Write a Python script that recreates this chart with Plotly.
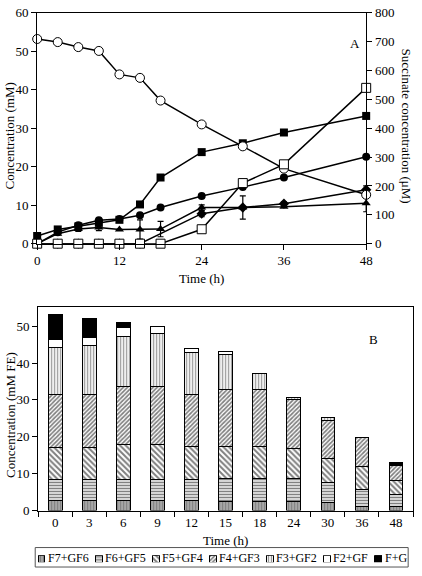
import plotly.graph_objects as go

W, H = 422, 576
FONT = "'Liberation Serif', 'Times New Roman', Times, serif"

# ---------------- Panel A data ----------------
time_h = [0, 3, 6, 9, 12, 15, 18, 24, 30, 36, 48]
open_circle = [53.2, 52.4, 51.1, 50.1, 44.0, 43.1, 37.2, 31.0, 25.3, 19.5, 12.7]
filled_square = [2.0, 3.7, 4.5, 5.4, 6.2, 10.2, 17.2, 23.8, 26.1, 28.9, 33.2]
filled_circle = [0.0, 3.0, 4.8, 6.1, 6.4, 7.4, 9.4, 12.4, 14.7, 17.2, 22.6]
filled_triangle = [0.0, 2.6, 3.8, 4.2, 3.7, 3.7, 3.8, 9.4, 9.4, 9.6, 10.5]
triangle_err = [0, 0, 0.6, 0.8, 0, 2.5, 2.0, 0.7, 0, 0, 2.2]
filled_diamond = [0.0, 0.0, 0.0, 0.0, 0.0, 0.0, None, 7.8, 9.4, 10.4, 14.0]
diamond_err = [0, 0, 0, 0, 0, 0, 0, 0.8, 3.0, 0.5, 1.0]
succinate_uM = [0, 0, 0, 0, 0, 0, 0, 50, 210, 275, 540]

# ---------------- Panel B data ----------------
time_cat = ["0", "3", "6", "9", "12", "15", "18", "24", "30", "36", "48"]
series_names = ["F7+GF6", "F6+GF5", "F5+GF4", "F4+GF3", "F3+GF2", "F2+GF", "F+G"]
F7_GF6 = [2.8, 2.7, 2.7, 2.7, 2.7, 2.5, 2.5, 2.5, 2.3, 1.1, 1.0]
F6_GF5 = [5.7, 5.8, 5.8, 5.8, 5.8, 6.3, 6.3, 6.3, 5.2, 4.5, 3.4]
F5_GF4 = [8.5, 8.5, 9.4, 9.4, 8.8, 8.5, 8.5, 8.0, 6.5, 6.4, 3.8]
F4_GF3 = [14.6, 14.6, 15.6, 15.6, 14.2, 15.4, 15.5, 13.2, 10.4, 7.7, 3.9]
F3_GF2 = [12.5, 13.2, 13.8, 14.5, 11.4, 9.7, 4.3, 0.7, 0.8, 0, 0]
F2_GF = [2.2, 2.2, 2.3, 1.8, 1.1, 0.7, 0, 0, 0, 0, 0]
F_G = [6.9, 5.1, 1.3, 0, 0, 0, 0, 0, 0, 0, 0.8]
series_values = [F7_GF6, F6_GF5, F5_GF4, F4_GF3, F3_GF2, F2_GF, F_G]

# pattern styles
styles = [
    dict(shape="|", size=3, solidity=0.8, fgcolor="black", bgcolor="white"),
    dict(shape="-", size=3, solidity=0.55, fgcolor="black", bgcolor="white"),
    dict(shape="\\", size=4, solidity=0.5, fgcolor="black", bgcolor="white"),
    dict(shape="/", size=3, solidity=0.55, fgcolor="black", bgcolor="white"),
    dict(shape="|", size=3, solidity=0.45, fgcolor="#333333", bgcolor="white"),
    dict(shape="", size=3, solidity=0.3, fgcolor="white", bgcolor="white"),
    dict(shape="", size=3, solidity=0.3, fgcolor="black", bgcolor="black"),
]


def px(x):
    return x / W


def py(y):
    return 1 - y / H


fig = go.Figure()

line = dict(color="black", width=1.5)


def ebar(arr):
    return dict(type="data", array=arr, visible=True, color="black", thickness=1.2, width=3)


fig.add_trace(go.Scatter(x=time_h, y=filled_square, mode="lines+markers", line=line,
                         marker=dict(symbol="square", size=8, color="black"),
                         xaxis="x", yaxis="y", cliponaxis=False))
fig.add_trace(go.Scatter(x=time_h, y=filled_circle, mode="lines+markers", line=line,
                         marker=dict(symbol="circle", size=8, color="black"),
                         xaxis="x", yaxis="y", cliponaxis=False))
fig.add_trace(go.Scatter(x=time_h, y=filled_triangle, mode="lines+markers", line=line,
                         marker=dict(symbol="triangle-up", size=8, color="black"),
                         error_y=ebar(triangle_err), xaxis="x", yaxis="y", cliponaxis=False))
fig.add_trace(go.Scatter(x=time_h, y=filled_diamond, mode="lines+markers", line=line,
                         connectgaps=True,
                         marker=dict(symbol="diamond", size=8, color="black"),
                         error_y=ebar(diamond_err), xaxis="x", yaxis="y", cliponaxis=False))
fig.add_trace(go.Scatter(x=time_h, y=open_circle, mode="lines+markers", line=line,
                         marker=dict(symbol="circle", size=9, color="white",
                                     line=dict(color="black", width=1)),
                         xaxis="x", yaxis="y", cliponaxis=False))
fig.add_trace(go.Scatter(x=time_h, y=succinate_uM, mode="lines+markers", line=line,
                         marker=dict(symbol="square", size=9, color="white",
                                     line=dict(color="black", width=1)),
                         xaxis="x", yaxis="y2", cliponaxis=False))

# Panel B stacked bars
for name, vals, st in zip(series_names, series_values, styles):
    fig.add_trace(go.Bar(
        x=time_cat, y=[v if v > 0 else None for v in vals], name=name,
        marker=dict(color=st["bgcolor"], line=dict(color="black", width=1),
                    pattern=dict(shape=st["shape"], size=st["size"], solidity=st["solidity"],
                                 fgcolor=st["fgcolor"], bgcolor=st["bgcolor"])),
        xaxis="x2", yaxis="y3", hoverinfo="skip"))

# Manual legend (swatches on an auxiliary axis + text annotations)
LEG_FS = 12
char_w = {"F": 0.556, "G": 0.722, "+": 0.564}


def text_w(s):
    return sum(char_w.get(c, 0.5) for c in s) * LEG_FS


box_l, box_r, box_t, box_b = 33, 415, 555, 575
sw, tgap, pad = 7, 2, 3
total = sum(sw + tgap + text_w(n) for n in series_names)
gap = (box_r - box_l - 2 * pad - total) / (len(series_names) - 1)
xcur = box_l + pad
annotations = []
for name, st in zip(series_names, styles):
    fig.add_trace(go.Bar(
        x=[xcur + sw / 2], y=[1], width=[sw],
        marker=dict(color=st["bgcolor"], line=dict(color="black", width=1),
                    pattern=dict(shape=st["shape"], size=st["size"], solidity=st["solidity"],
                                 fgcolor=st["fgcolor"], bgcolor=st["bgcolor"])),
        xaxis="x3", yaxis="y4", hoverinfo="skip", showlegend=False))
    annotations.append(dict(x=px(xcur + sw + tgap), y=py(566), xref="paper", yref="paper",
                            text=name, showarrow=False, xanchor="left", yanchor="middle",
                            xshift=-1, font=dict(family=FONT, size=LEG_FS, color="black")))
    xcur += sw + tgap + text_w(name) + gap

ax_common = dict(showline=True, linecolor="black", linewidth=1.3, ticks="outside",
                 ticklen=5, tickwidth=1.3, tickcolor="black", showgrid=False, zeroline=False,
                 ticklabeloverflow="allow",
                 tickfont=dict(family=FONT, size=13, color="black"))

fig.update_layout(
    width=W, height=H, margin=dict(l=0, r=0, t=0, b=0),
    paper_bgcolor="white", plot_bgcolor="white", showlegend=False,
    barmode="stack", bargap=0.6,
    font=dict(family=FONT, size=13, color="black"),
    xaxis=dict(domain=[px(35), px(372)], range=[0, 48], tickvals=[0, 12, 24, 36, 48],
               anchor="y", mirror=True, **ax_common),
    yaxis=dict(domain=[py(243), py(6)], range=[0, 60], dtick=10, anchor="x", **ax_common),
    yaxis2=dict(overlaying="y", side="right", range=[0, 800], dtick=100, anchor="x", **ax_common),
    xaxis2=dict(domain=[px(36), px(420)], type="category", anchor="y3", mirror=True,
                tickson="boundaries", **ax_common),
    yaxis3=dict(domain=[py(517), py(308)], range=[0, 55.2], dtick=10, anchor="x2",
                mirror=True, **ax_common),
    xaxis3=dict(domain=[0, 1], range=[0, W], visible=False, anchor="y4"),
    yaxis4=dict(domain=[py(570), py(563)], range=[0, 1], visible=False, anchor="x3"),
)

annotations += [
    dict(x=px(203), y=py(279), text="Time (h)"),
    dict(x=px(7), y=py(132), text="Concentration (mM)", textangle=-90),
    dict(x=px(413), y=py(122), text="Succinate concentration (μM)", textangle=90),
    dict(x=px(361), y=py(37), text="A"),
    dict(x=px(228), y=py(548), text="Time (h)"),
    dict(x=px(7), y=py(419), text="Concentration (mM FE)", textangle=-90),
    dict(x=px(380), y=py(341), text="B"),
]
for a in annotations[len(series_names):]:
    a.update(xref="paper", yref="paper", showarrow=False, xanchor="center", yanchor="middle",
             font=dict(family=FONT, size=13, color="black"))
fig.update_layout(annotations=annotations)
fig.add_shape(type="rect", xref="paper", yref="paper", x0=px(box_l), x1=px(box_r),
              y0=py(box_b), y1=py(box_t), line=dict(color="#555555", width=1))

fig.write_html("out.html", config={"displayModeBar": False},
               post_script="document.body.style.margin='0';document.body.style.overflow='hidden';")
